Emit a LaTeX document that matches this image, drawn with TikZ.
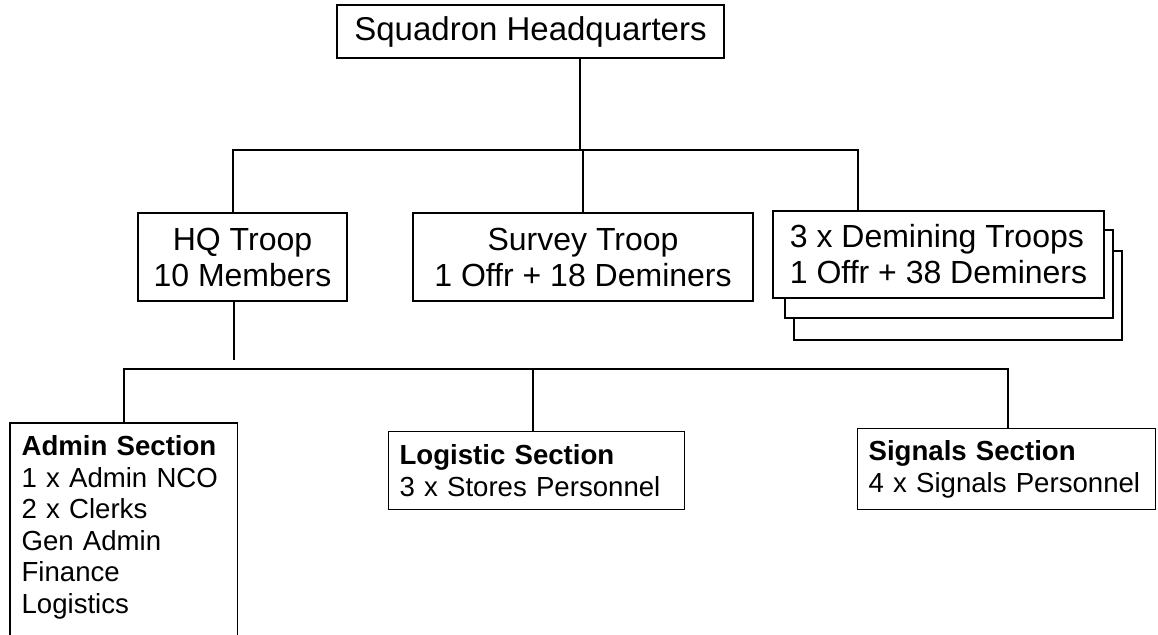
\documentclass[tikz,border=0pt]{standalone}
\usepackage{fontspec}
\setmainfont{Liberation Sans}
\usetikzlibrary{positioning}
\tikzset{
  unit/.style={draw, line width=0.6pt, fill=white, align=center, inner sep=0pt,
    font=\fontsize{16}{18}\selectfont},
  section/.style={draw, line width=0.6pt, fill=white, align=left, anchor=north west,
    inner xsep=5.5pt, inner ysep=6pt, font=\fontsize{13.8}{15.75}\selectfont},
  wire/.style={line width=0.6pt}
}
\begin{document}
\begin{tikzpicture}[x=0.5pt,y=-0.5pt]
    \useasboundingbox (0,0) rectangle (1158,635);

    % squadron level
    \node[unit, minimum width=193.5pt, minimum height=26.5pt, font=\fontsize{16.5}{18}\selectfont]
        (sqn) at (530.5,31.5) {Squadron Headquarters};

    % troops
    \node[unit, minimum width=104.5pt, minimum height=44pt] (hq) at (242.5,257) {HQ Troop\\10 Members};
    \node[unit, minimum width=170pt, minimum height=44pt] (survey) at (583,257) {Survey Troop\\1 Offr + 18 Deminers};
    \node[unit, minimum width=164pt, minimum height=44.5pt] (demin3) at (958,295.5) {};
    \node[unit, minimum width=164pt, minimum height=44pt] (demin2) at (949,274) {};
    \node[unit, align=left, minimum width=165.5pt, minimum height=43.5pt] (demin) at (938.5,254.5)
        {3 x Demining Troops\\1 Offr + 38 Deminers};

    % sections of the HQ troop
    \node[section, draw=none, text width=102pt] (admin) at (10,423)
        {\textbf{Admin Section}\\1 x Admin NCO\\2 x Clerks\\Gen Admin\\Finance\\Logistics};
    \draw[wire] (admin.north west |- 0,635) -- (admin.north west) -- (admin.north east) -- (admin.north east |- 0,635);
    \node[section, text width=137pt, minimum height=39pt] (logistic) at (388,431)
        {\textbf{Logistic Section}\\3 x Stores Personnel};
    \node[section, text width=138pt, minimum height=39pt] (signals) at (857,428)
        {\textbf{Signals Section}\\4 x Signals Personnel};

    % upper lines
    \coordinate (b1l) at (233,150);
    \coordinate (b1m) at (580,150);
    \coordinate (b1r) at (858,150);
    \draw[wire] (sqn.south -| b1m) -- (b1m);
    \draw[wire] (b1l |- hq.north) -- (b1l) -- (b1r) -- (b1r |- demin.north);
    \draw[wire] (survey.north |- b1l) -- (survey.north);

    % lower lines
    \coordinate (hqdrop) at (234,360);
    \coordinate (b2l) at (124,369);
    \coordinate (b2m) at (533,369);
    \coordinate (b2r) at (1008,369);
    \draw[wire] (hq.south -| hqdrop) -- (hqdrop);
    \draw[wire] (b2l |- admin.north) -- (b2l) -- (b2r) -- (b2r |- signals.north);
    \draw[wire] (b2m) -- (b2m |- logistic.north);
\end{tikzpicture}
\end{document}
